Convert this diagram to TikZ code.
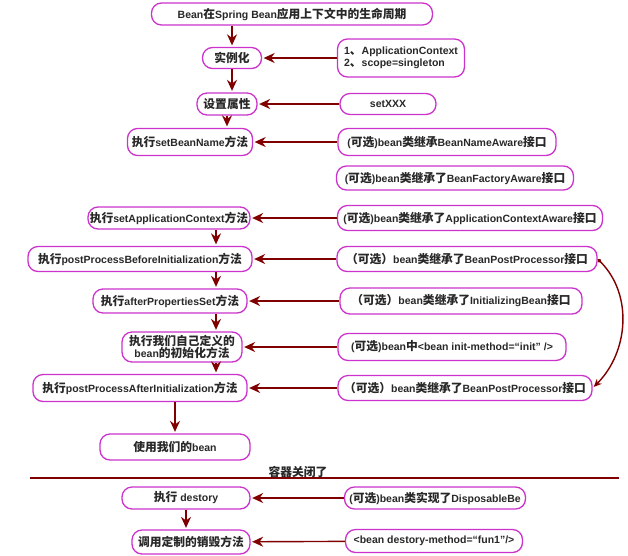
\documentclass[tikz,border=0pt]{standalone}
\usepackage{fontspec}
\setmainfont{Liberation Sans}
\newfontfamily\cjk[Scale=1.12]{Noto Sans CJK SC}
\usetikzlibrary{arrows.meta}
\newcommand\zh[1]{{\cjk #1}}
\definecolor{boxline}{RGB}{204,51,204}
\definecolor{arrowred}{RGB}{128,0,0}
\definecolor{textgray}{RGB}{40,40,40}
\tikzset{
	box/.style={draw=boxline, line width=1.3pt, rounded corners=10pt, fill=white, text=textgray,
		font=\bfseries\fontsize{10.5}{12.5}\selectfont, inner sep=1pt, align=center},
	arr/.style={draw=arrowred, line width=1.4pt, shorten >=1.5pt, -{Stealth[length=11pt,width=10pt]}},
}

\begin{document}
\begin{tikzpicture}[x=1pt, y=-1pt]
		\useasboundingbox (0,0) rectangle (628,555);
		% life cycle steps
		\foreach \n/\x/\y/\w/\h/\t in {
			top/292/14/281/22/{Bean\zh{在}Spring Bean\zh{应用上下文中的生命周期}},
			inst/232/58/59/21/{\zh{实例化}},
			prop/227/104/60/22/{\zh{设置属性}},
			bnm/190/142/125/27/{\zh{执行}setBeanName\zh{方法}},
			sac/169/218/162/22/{\zh{执行}setApplicationContext\zh{方法}},
			before/140/259/224/25/{\zh{执行}postProcessBeforeInitialization\zh{方法}},
			after/170/301/154/24/{\zh{执行}afterPropertiesSet\zh{方法}},
			init/182/347/120/30/{\zh{执行我们自己定义的}\\bean\zh{的初始化方法}},
			afterinit/140/388/214/27/{\zh{执行}postProcessAfterInitialization\zh{方法}},
			use/175/447/150/26/{\zh{使用我们的}bean},
			dest/186/498/128/22/{\zh{执行} destory},
			call/191/542/118/24/{\zh{调用定制的销毁方法}}} {
			\node[box, minimum width=\w pt, minimum height=\h pt] (\n) at (\x,\y) {\t};
		}
		% what each step comes from
		\node[box, minimum width=127pt, minimum height=38pt, align=left] (ctx) at (401,58)
			{1\zh{、}ApplicationContext\\2\zh{、}scope=singleton};
		\foreach \n/\x/\y/\w/\h/\t in {
			setx/388/104/96/21/{setXXX},
			bna/447/142/218/27/{(\zh{可选})bean\zh{类继承}BeanNameAware\zh{接口}},
			bfa/455/178/237/24/{(\zh{可选})bean\zh{类继承了}BeanFactoryAware\zh{接口}},
			aca/470/218/265/25/{(\zh{可选})bean\zh{类继承了}ApplicationContextAware\zh{接口}},
			bpp1/467/259/260/25/{\zh{（可选）}bean\zh{类继承了}BeanPostProcessor\zh{接口}},
			initb/461/301/242/26/{\zh{（可选）}bean\zh{类继承了}InitializingBean\zh{接口}},
			initm/452/347/228/27/{(\zh{可选})bean\zh{中}<bean init-method=“init” />},
			bpp2/465/388/254/25/{\zh{（可选）}bean\zh{类继承了}BeanPostProcessor\zh{接口}},
			disp/435/498/181/22/{(\zh{可选})bean\zh{类实现了}DisposableBe},
			destm/434/541/177/23/{<bean destory-method=“fun1”/>}} {
			\node[box, minimum width=\w pt, minimum height=\h pt] (\n) at (\x,\y) {\t};
		}
		\coordinate (col) at (216,0);
		\draw[arr] (top.south -| inst) -- (inst.north);
		\draw[arr] (inst.south) -- (inst.south |- prop.north);
		\draw[arr] (prop.south) -- (prop.south |- bnm.north);
		\draw[arr] (sac.south -| col) -- (before.north -| col);
		\draw[arr] (before.south -| col) -- (after.north -| col);
		\draw[arr] (after.south -| col) -- (init.north -| col);
		\draw[arr] (init.south -| col) -- (afterinit.north -| col);
		\draw[arr] (afterinit.south -| use) -- (use.north);
		\draw[arr] (dest.south) -- (dest.south |- call.north);
		\foreach \r/\l in {ctx/inst, setx/prop, bna/bnm, aca/sac, bpp1/before, initb/after,
			initm/init, bpp2/afterinit, disp/dest, destm/call}
			\draw[arr] (\r) -- (\l);
		\draw[arr, {Diamond[length=5pt,width=4pt]}-{Stealth[length=8pt,width=7pt]}]
			(bpp1.east) to[out=-45, in=45] (bpp2.east);
		% container closed
		\coordinate (sepl) at (30,478);
		\coordinate (sepr) at (619,478);
		\draw[arrowred, line width=1.2pt] (sepl) -- (sepr);
		\node[text=textgray, font=\bfseries\fontsize{10.5}{12.5}\selectfont] (closed) at (298,472) {\zh{容器关闭了}};
	\end{tikzpicture}
\end{document}
